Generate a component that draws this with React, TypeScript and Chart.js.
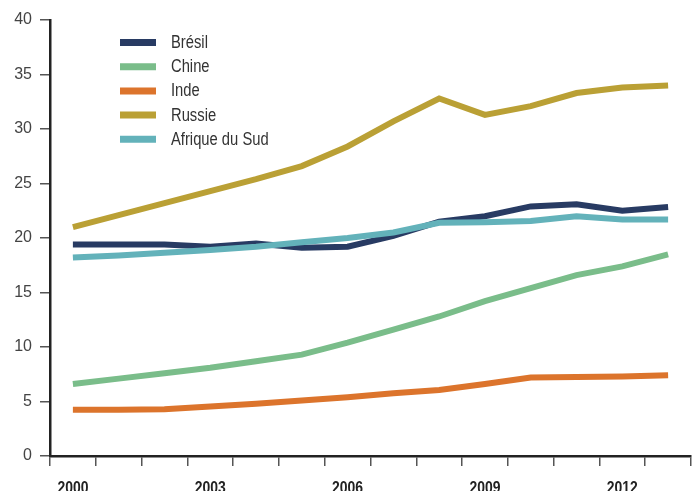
import React, { useEffect, useRef } from "react";
import { Chart, registerables } from "chart.js";

Chart.register(...registerables);

const years = ["2000", "2001", "2002", "2003", "2004", "2005", "2006", "2007", "2008", "2009", "2010", "2011", "2012", "2013"];
const seriesNames = ["Brésil", "Chine", "Inde", "Russie", "Afrique du Sud"];
const bresil = [19.4, 19.4, 19.4, 19.2, 19.5, 19.1, 19.2, 20.2, 21.5, 22.0, 22.9, 23.1, 22.5, 22.85];
const chine = [6.6, 7.1, 7.6, 8.1, 8.7, 9.3, 10.4, 11.6, 12.8, 14.2, 15.4, 16.6, 17.4, 18.5];
const inde = [4.25, 4.25, 4.3, 4.55, 4.8, 5.1, 5.4, 5.75, 6.05, 6.6, 7.2, 7.25, 7.3, 7.4];
const russie = [21.0, 22.1, 23.2, 24.3, 25.4, 26.6, 28.4, 30.7, 32.8, 31.3, 32.1, 33.3, 33.8, 34.0];
const afriqueDuSud = [18.2, 18.4, 18.65, 18.9, 19.2, 19.6, 20.0, 20.5, 21.4, 21.45, 21.55, 22.0, 21.7, 21.7];
const seriesColors = ["#283b63", "#7abd8a", "#dc742c", "#baa035", "#63b2ba"];
const yTicks = [0, 5, 10, 15, 20, 25, 30, 35, 40];
const labelEvery = 3;

const FONT = "'Liberation Sans', Arial, sans-serif";
const NARROW = 0.82;

const textPlugin = {
  id: "narrowText",
  afterDraw(chart: any) {
    const ctx = chart.ctx;
    const area = chart.chartArea;
    // legend
    ctx.save();
    chart.data.datasets.forEach((ds: any, i: number) => {
      const y = area.top + 22.5 + i * 24.2;
      const x0 = area.left + 70;
      ctx.strokeStyle = ds.borderColor;
      ctx.lineWidth = 7;
      ctx.lineCap = "butt";
      ctx.beginPath();
      ctx.moveTo(x0, y);
      ctx.lineTo(x0 + 36, y);
      ctx.stroke();
      ctx.save();
      ctx.translate(x0 + 51, y + 0.5);
      ctx.scale(NARROW, 1);
      ctx.fillStyle = "#333333";
      ctx.font = `18px ${FONT}`;
      ctx.textBaseline = "middle";
      ctx.textAlign = "left";
      ctx.fillText(ds.label, 0, 0);
      ctx.restore();
    });
    // x-axis labels (bold, condensed)
    const xs = chart.scales.x;
    ctx.fillStyle = "#222222";
    ctx.font = `bold 17px ${FONT}`;
    ctx.textAlign = "center";
    ctx.textBaseline = "alphabetic";
    years.forEach((lab, i) => {
      if (i % labelEvery !== 0) return;
      const x = xs.getPixelForTick(i);
      ctx.save();
      ctx.translate(x, xs.top + 36.5);
      ctx.scale(NARROW, 1);
      ctx.fillText(lab, 0, 0);
      ctx.restore();
    });
    ctx.restore();
  },
};

export default function App() {
  const ref = useRef<HTMLCanvasElement>(null);
  useEffect(() => {
    if (!ref.current) return;
    const all = [bresil, chine, inde, russie, afriqueDuSud];
    const chart = new Chart(ref.current, {
      type: "line",
      data: {
        labels: years,
        datasets: all.map((d, i) => ({
          label: seriesNames[i],
          data: d,
          borderColor: seriesColors[i],
          backgroundColor: seriesColors[i],
          borderWidth: 6,
          pointRadius: 0,
          tension: 0,
          fill: false,
          borderCapStyle: "butt" as const,
          borderJoinStyle: "miter" as const,
          order: 5 - i,
        })),
      },
      options: {
        responsive: false,
        animation: false,
        layout: { padding: { left: 0, top: 20, right: 2, bottom: 0 } },
        plugins: { legend: { display: false }, tooltip: { enabled: false } },
        scales: {
          x: {
            type: "category",
            offset: true,
            grid: {
              offset: true,
              drawOnChartArea: false,
              drawTicks: true,
              tickLength: 10,
              color: "#555555",
              lineWidth: 1.5,
            },
            border: { display: true, color: "#222222", width: 2.5 },
            ticks: { display: false, autoSkip: false, maxRotation: 0 },
            afterFit: (s: any) => {
              s.height = 35;
            },
          },
          y: {
            min: 0,
            max: 40,
            afterBuildTicks: (s: any) => {
              s.ticks = yTicks.map((v) => ({ value: v }));
            },
            grid: {
              drawOnChartArea: false,
              drawTicks: true,
              tickLength: 10,
              color: "#555555",
              lineWidth: 1.5,
            },
            border: { display: true, color: "#222222", width: 2.5 },
            ticks: {
              padding: 8,
              color: "#444444",
              font: { family: FONT, size: 16 },
            },
            afterFit: (s: any) => {
              s.width = 50;
            },
          },
        },
      },
      plugins: [textPlugin],
    });
    return () => chart.destroy();
  }, []);
  return (
    <canvas
      ref={ref}
      width={693}
      height={491}
      style={{ position: "absolute", left: 0, top: 0, display: "block" }}
    />
  );
}
